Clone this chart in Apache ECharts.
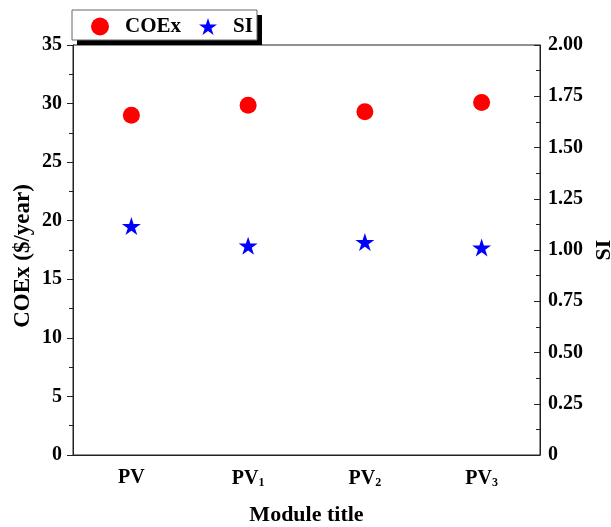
<!DOCTYPE html>
<html>
<head>
<meta charset="utf-8">
<script src="https://cdn.jsdelivr.net/npm/echarts@6/dist/echarts.min.js"></script>
<style>html,body{margin:0;padding:0;background:#fff;}#c{width:611px;height:527px;}</style>
</head>
<body>
<div id="c"></div>
<script>
const categories = ['PV', 'PV1', 'PV2', 'PV3'];
const categoryLabels = ['{a|PV}', '{a|PV}{s|1}', '{a|PV}{s|2}', '{a|PV}{s|3}'];
const coex = [29.0, 29.85, 29.3, 30.1];
const si = [1.117, 1.021, 1.039, 1.012];
const leftTicks = [0, 5, 10, 15, 20, 25, 30, 35];
const rightTicks = ['0', '0.25', '0.50', '0.75', '1.00', '1.25', '1.50', '1.75', '2.00'];

const FONT = '"Liberation Serif", "Times New Roman", serif';
const STAR = 'path://M50 0 L61.23 34.55 L97.55 34.55 L68.17 55.9 L79.39 90.45 L50 69.1 L20.61 90.45 L31.83 55.9 L2.45 34.55 L38.77 34.55 Z';
const AX = '#222';

const chart = echarts.init(document.getElementById('c'), null, {renderer: 'canvas'});
chart.setOption({
  animation: false,
  backgroundColor: '#fff',
  textStyle: {fontFamily: FONT},
  grid: {left: 73, right: 71, top: 45, bottom: 72, show: true, borderColor: AX, borderWidth: 1,
    containLabel: false, outerBoundsMode: 'none'},
  graphic: [
    {type: 'rect', z: 10, shape: {x: 77, y: 15, width: 185, height: 30}, style: {fill: '#000'}},
    {type: 'rect', z: 11, shape: {x: 72, y: 10, width: 185, height: 30}, style: {fill: '#fff', stroke: '#666', lineWidth: 1}}
  ],
  legend: {
    left: 72, top: 10, z: 20,
    padding: [6, 3, 6, 19],
    itemWidth: 18, itemHeight: 18,
    itemGap: 18,
    textStyle: {fontFamily: FONT, fontWeight: 'bold', fontSize: 21, color: '#000', padding: [0, 0, 0, 11]},
    data: [
      {name: 'COEx', icon: 'circle'},
      {name: 'SI', icon: STAR}
    ]
  },
  xAxis: {
    type: 'category',
    data: categories,
    boundaryGap: true,
    name: 'Module title',
    nameLocation: 'middle',
    nameGap: 49,
    nameTextStyle: {fontFamily: FONT, fontWeight: 'bold', fontSize: 22, color: '#000'},
    axisLine: {lineStyle: {color: AX, width: 1}},
    axisTick: {alignWithLabel: true, length: 6, lineStyle: {color: AX}},
    axisLabel: {
      margin: 13,
      formatter: function (v, i) { return categoryLabels[i]; },
      rich: {
        a: {fontFamily: FONT, fontWeight: 'bold', fontSize: 20, color: '#000'},
        s: {fontFamily: FONT, fontWeight: 'bold', fontSize: 12, color: '#000', padding: [9, 0, 0, 0]}
      }
    },
    splitLine: {show: false}
  },
  yAxis: [
    {
      type: 'value', position: 'left',
      min: 0, max: 35, interval: 5,
      name: 'COEx ($/year)',
      nameLocation: 'middle', nameGap: 38, nameRotate: 90, nameMoveOverlap: false,
      nameTextStyle: {fontFamily: FONT, fontWeight: 'bold', fontSize: 23, color: '#000', padding: [0, 0, 0, -12]},
      axisLine: {show: true, lineStyle: {color: AX, width: 1}},
      axisTick: {show: true, length: 6, lineStyle: {color: AX}},
      minorTick: {show: true, splitNumber: 2, length: 4, lineStyle: {color: AX}},
      axisLabel: {margin: 11, fontFamily: FONT, fontWeight: 'bold', fontSize: 20, color: '#000',
        formatter: function (v) { return leftTicks.indexOf(v) >= 0 ? String(v) : ''; }},
      splitLine: {show: false}
    },
    {
      type: 'value', position: 'right',
      min: 0, max: 2, interval: 0.25,
      name: 'SI',
      nameLocation: 'middle', nameGap: 53, nameRotate: 90, nameMoveOverlap: false,
      nameTextStyle: {fontFamily: FONT, fontWeight: 'bold', fontSize: 22, color: '#000'},
      axisLine: {show: true, lineStyle: {color: AX, width: 1}},
      axisTick: {show: true, inside: true, length: 6, lineStyle: {color: AX}},
      minorTick: {show: true, splitNumber: 2, length: 4, lineStyle: {color: AX}},
      axisLabel: {margin: 8, fontFamily: FONT, fontWeight: 'bold', fontSize: 20, color: '#000',
        formatter: function (v) { return rightTicks[Math.round(v / 0.25)]; }},
      splitLine: {show: false}
    }
  ],
  series: [
    {
      name: 'COEx', type: 'scatter', yAxisIndex: 0,
      data: coex, symbol: 'circle', symbolSize: 17,
      itemStyle: {color: '#ff0000', opacity: 1}
    },
    {
      name: 'SI', type: 'scatter', yAxisIndex: 1,
      data: si, symbol: STAR, symbolSize: [19, 18],
      itemStyle: {color: '#0000ff', opacity: 1}
    }
  ]
});
</script>
</body>
</html>
